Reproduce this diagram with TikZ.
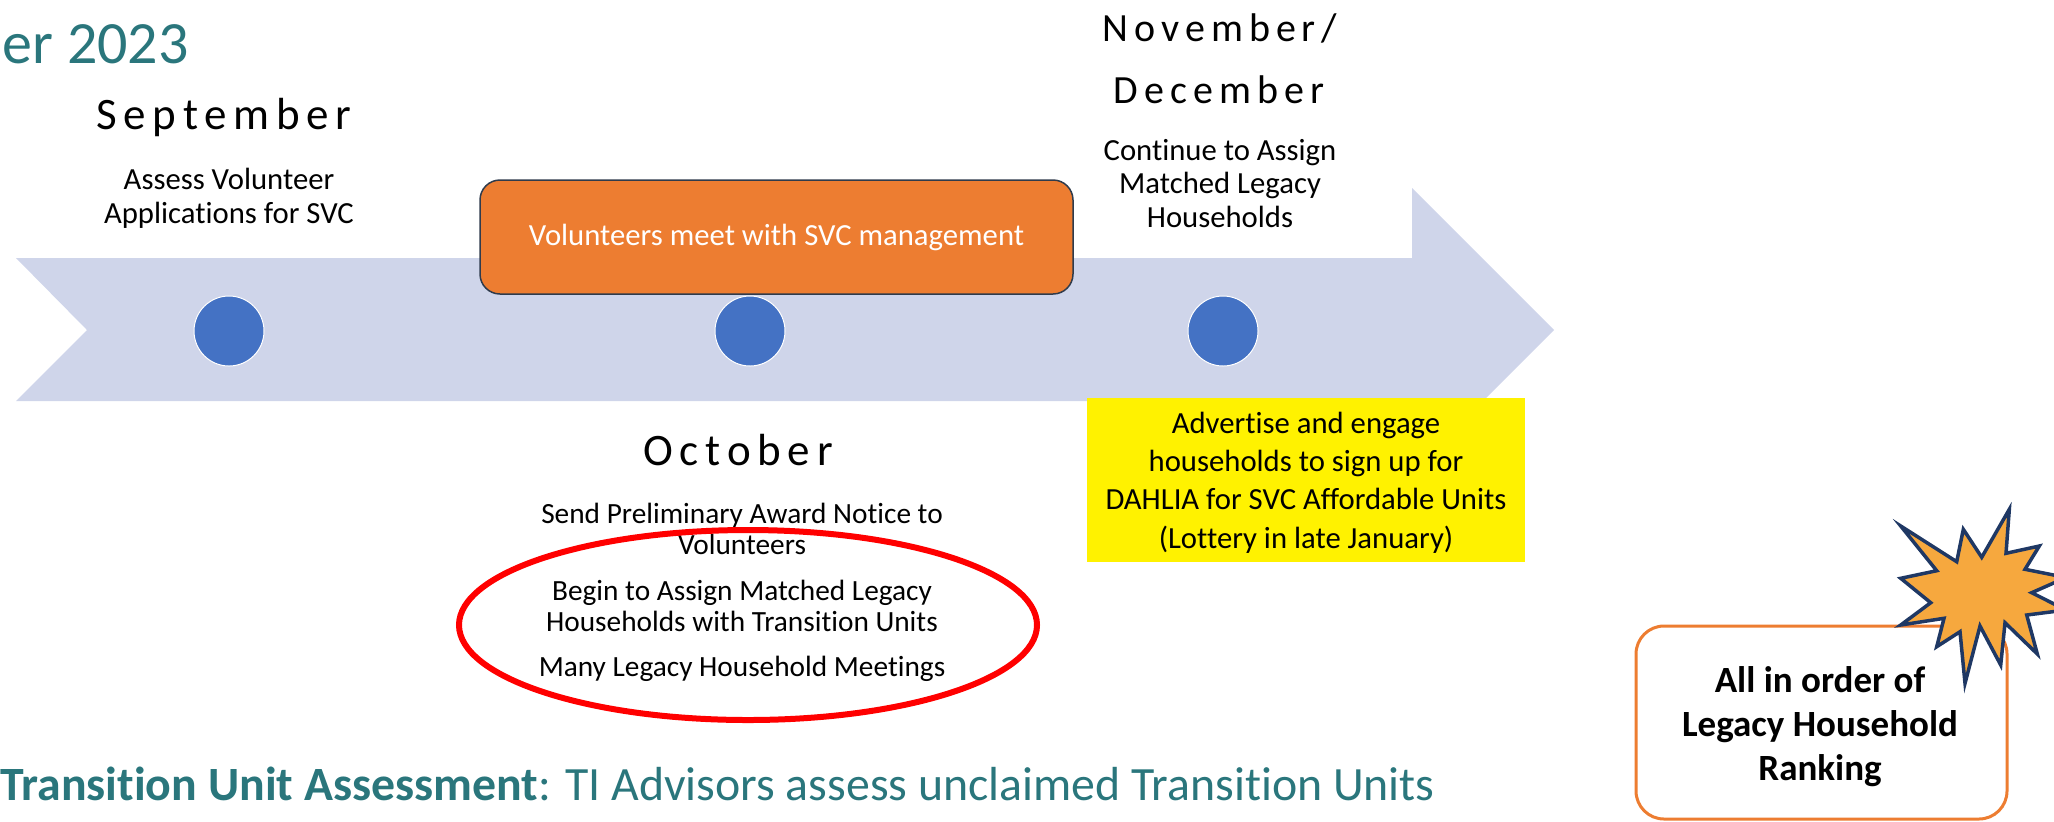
\documentclass[tikz,border=0pt]{standalone}
\usepackage{fontspec}
\setmainfont{Carlito}[Ligatures=NoCommon]
\newfontfamily\monthfont[LetterSpace=15]{Carlito}
\usetikzlibrary{shapes.geometric}
\definecolor{teal1}{RGB}{42,118,124}
\definecolor{arrowfill}{RGB}{207,213,234}
\definecolor{dotblue}{RGB}{68,114,196}
\definecolor{orng}{RGB}{237,125,49}
\definecolor{boxedge}{RGB}{47,59,76}
\definecolor{starfill}{RGB}{246,168,62}
\definecolor{navy}{RGB}{31,56,100}
\newcommand{\stacklines}[1]{\setlength{\tabcolsep}{0pt}\renewcommand{\arraystretch}{1}\begin{tabular}[t]{@{}c@{}}#1\end{tabular}}
\begin{document}
\begin{tikzpicture}[x=0.5pt,y=-0.5pt,
  txt/.style={inner sep=0pt, anchor=base, text=black},
  month/.style={inner sep=0pt, anchor=base, text=black},
  dot/.style={circle, fill=dotblue, draw=white, line width=0.5pt, minimum size=35pt, inner sep=0pt},
]
\useasboundingbox (0,0) rectangle (2054,821);
\clip (0,0) rectangle (2054,821);

% timeline arrow
\path[fill=arrowfill] (16,258) -- (1412,258) -- (1412,188) -- (1554,330) -- (1412,472) -- (1412,401) -- (16,401) -- (87,330) -- cycle;

% title and bottom line
\node[anchor=base east, inner sep=0pt, text=teal1, font=\fontsize{30}{36}\selectfont] (title) at (189,63) {er 2023};
\node[anchor=base west, inner sep=0pt, text=teal1, font=\fontsize{23.9}{28}\selectfont] (tua) at (0,800) {\textbf{Transition Unit Assessment}: TI Advisors assess unclaimed Transition Units};

% orange box
\node[rounded corners=10pt, fill=orng, draw=boxedge, line width=0.75pt, minimum width=296.5pt, minimum height=57pt, inner sep=0pt, text=white, font=\fontsize{15.35}{17}\selectfont] (meet) at (776.5,237) {Volunteers meet with SVC management};

% dots
\node[dot] (d1) at (229,331) {};
\node[dot] (d2) at (750,331) {};
\node[dot] (d3) at (1223,331) {};

% September
\node[month, font=\monthfont\fontsize{22.5}{27}\selectfont] (sep) at (224,129) {September};
\node[txt, font=\fontsize{15.35}{17}\selectfont] (septext) at (229,189) {\stacklines{Assess Volunteer\\Applications for SVC}};

% October
\node[month, font=\monthfont\fontsize{22.5}{27}\selectfont] (oct) at (738,465) {October};
\node[txt, font=\fontsize{14.66}{15.5}\selectfont] (octtext) at (742,523) {\stacklines{Send Preliminary Award Notice to\\Volunteers\\[7.5pt]Begin to Assign Matched Legacy\\Households with Transition Units\\[7pt]Many Legacy Household Meetings}};
\node[ellipse, draw=red, line width=3pt, minimum width=289pt, minimum height=95pt, inner sep=0pt] (circ) at (748,625) {};

% November / December
\node[month, font=\monthfont\fontsize{20}{24}\selectfont] (nov) at (1220,41) {November/};
\node[month, font=\monthfont\fontsize{20}{24}\selectfont] (dec) at (1219,103) {December};
\node[txt, font=\fontsize{15.35}{16.75}\selectfont] (novtext) at (1220,160) {\stacklines{Continue to Assign\\Matched Legacy\\Households}};

% yellow box
\node[fill=yellow, minimum width=219pt, minimum height=82pt, inner sep=0pt] (adv) at (1306,480) {};
\node[txt, font=\fontsize{15.35}{19.2}\selectfont] (advtext) at (1306,433) {\stacklines{Advertise and engage\\households to sign up for\\DAHLIA for SVC Affordable Units\\(Lottery in late January)}};

% ranking box
\node[draw=orng, line width=1.5pt, rounded corners=14pt, fill=white, minimum width=185.5pt, minimum height=96.5pt, inner sep=0pt] (rank) at (1821.5,722.5) {};
\node[txt, font=\bfseries\fontsize{18.5}{22}\selectfont] (ranktext) at (1820,692) {\stacklines{All in order of\\Legacy Household\\Ranking}};

% starburst
\path[fill=starfill, draw=navy, line width=1.75pt, line join=miter]
  (1900.7,526) -- (1956.7,561.7) -- (1963.3,529.3) -- (1981.7,557.3) -- (2009.3,509.3) -- (2006,553.3)
  -- (2039.3,546) -- (2025,569.3) -- (2066,577.5) -- (2031.7,592.7) -- (2066,610) -- (2026.7,615)
  -- (2037.3,654) -- (2005,622.7) -- (2000.7,665) -- (1980,626) -- (1965,683.3) -- (1960,631.7)
  -- (1936.7,646.7) -- (1944,618.3) -- (1900.7,625) -- (1930.7,602.7) -- (1900.7,578.3) -- (1936.7,570.7) -- cycle;
\end{tikzpicture}
\end{document}
